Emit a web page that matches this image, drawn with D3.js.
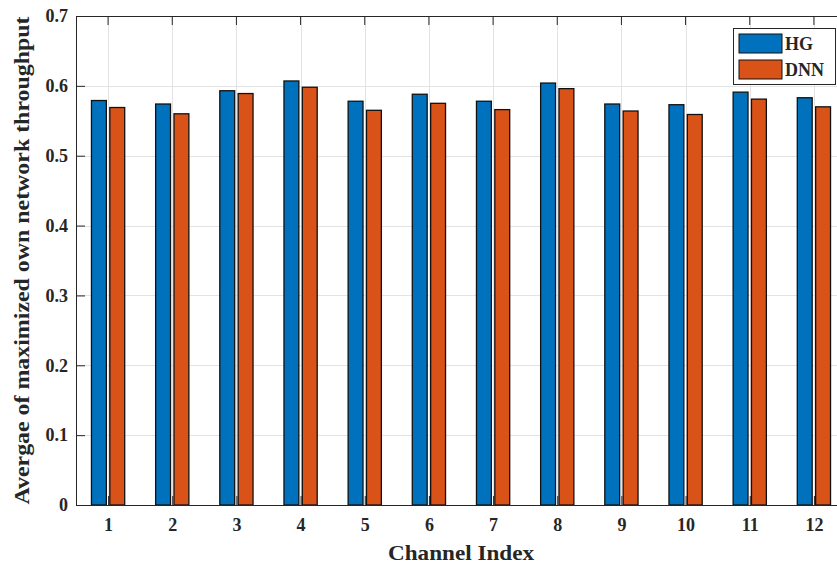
<!DOCTYPE html>
<html>
<head>
<meta charset="utf-8">
<script src="https://cdn.jsdelivr.net/npm/d3@7"></script>
<style>
  html, body { margin: 0; padding: 0; background: #fff; }
  svg { display: block; }
  text { font-family: "Liberation Serif", "DejaVu Serif", serif; font-weight: bold; fill: #262626; }
</style>
</head>
<body>
<svg id="chart" width="837" height="569"></svg>
<script>
// Channel indices and average maximized own-network throughput per method
const channels = [1, 2, 3, 4, 5, 6, 7, 8, 9, 10, 11, 12];
const hgValues  = [0.579, 0.574, 0.593, 0.607, 0.578, 0.588, 0.578, 0.604, 0.574, 0.573, 0.591, 0.583];
const dnnValues = [0.569, 0.560, 0.589, 0.598, 0.565, 0.575, 0.566, 0.596, 0.564, 0.559, 0.581, 0.570];
const seriesNames = ["HG", "DNN"];
const yTicks = [0, 0.1, 0.2, 0.3, 0.4, 0.5, 0.6, 0.7];

const colors = ["#0072BD", "#D95319"];
const series = [hgValues, dnnValues];

const svg = d3.select("#chart");
const plotL = 76, plotT = 16, plotR = 846, plotB = 505;

const x = d3.scaleLinear().domain([0.5, 12.5]).range([plotL, plotR]);
const y = d3.scaleLinear().domain([0, 0.7]).range([plotB, plotT]);

const barOffset = 0.143;   // group offset in category units
const barWidth = 0.232;

// grid
const grid = svg.append("g").attr("stroke", "#e3e3e3").attr("stroke-width", 1);
grid.selectAll("line.v").data(channels).join("line")
  .attr("x1", d => Math.round(x(d)) + 0.5).attr("x2", d => Math.round(x(d)) + 0.5)
  .attr("y1", plotT).attr("y2", plotB);
grid.selectAll("line.h").data(yTicks).join("line")
  .attr("x1", plotL).attr("x2", plotR)
  .attr("y1", d => Math.round(y(d)) + 0.5).attr("y2", d => Math.round(y(d)) + 0.5);

// bars
series.forEach((vals, si) => {
  const off = si === 0 ? -barOffset : barOffset;
  svg.append("g").selectAll("rect").data(channels).join("rect")
    .attr("x", d => x(d + off - barWidth / 2))
    .attr("width", x(barWidth) - x(0))
    .attr("y", (d, i) => y(vals[i]))
    .attr("height", (d, i) => y(0) - y(vals[i]))
    .attr("fill", colors[si])
    .attr("stroke", "#111")
    .attr("stroke-width", 1.3);
});

// axes with inward ticks
const yAxis = d3.axisLeft(y).tickValues(yTicks).tickSizeInner(-9).tickSizeOuter(0)
  .tickPadding(8).tickFormat(d => d === 0 ? "0" : d3.format(".1f")(d));
const gy = svg.append("g").attr("transform", `translate(${plotL},0)`).call(yAxis);
gy.select(".domain").attr("stroke", "#262626");
gy.selectAll(".tick line").attr("stroke", "#262626");
gy.selectAll("text").style("font-size", "18px").attr("fill", "#262626");

const xAxis = d3.axisBottom(x).tickValues(channels).tickSizeInner(-9).tickSizeOuter(0)
  .tickPadding(13).tickFormat(d3.format("d"));
const gx = svg.append("g").attr("transform", `translate(0,${plotB})`).call(xAxis);
gx.select(".domain").attr("stroke", "#262626");
gx.selectAll(".tick line").attr("stroke", "#262626");
gx.selectAll("text").style("font-size", "18px").attr("fill", "#262626");

// top frame with ticks
svg.append("line").attr("x1", plotL).attr("x2", plotR).attr("y1", plotT + 0.5).attr("y2", plotT + 0.5)
  .attr("stroke", "#262626");
svg.append("g").selectAll("line").data(channels).join("line")
  .attr("x1", d => x(d)).attr("x2", d => x(d)).attr("y1", plotT).attr("y2", plotT + 9)
  .attr("stroke", "#262626");

// axis titles
svg.append("text").attr("x", 461).attr("y", 560)
  .attr("text-anchor", "middle").style("font-size", "21px")
  .attr("textLength", 146).attr("lengthAdjust", "spacingAndGlyphs")
  .text("Channel Index");
svg.append("text").attr("transform", `translate(29,${(plotT + plotB) / 2}) rotate(-90)`)
  .attr("text-anchor", "middle").style("font-size", "21px")
  .attr("textLength", 488).attr("lengthAdjust", "spacingAndGlyphs")
  .text("Avergae of maximized own network throughput");

// legend
const lg = svg.append("g").attr("transform", "translate(733,28)");
lg.append("rect").attr("x", 0.5).attr("y", 0.5).attr("width", 102).attr("height", 56)
  .attr("fill", "#fff").attr("stroke", "#262626").attr("stroke-width", 1);
seriesNames.forEach((name, i) => {
  lg.append("rect").attr("x", 6).attr("y", 6 + i * 26).attr("width", 43).attr("height", 19)
    .attr("fill", colors[i]).attr("stroke", "#111").attr("stroke-width", 1);
  lg.append("text").attr("x", 52).attr("y", 22 + i * 26).style("font-size", "18px").text(name);
});
</script>
</body>
</html>
